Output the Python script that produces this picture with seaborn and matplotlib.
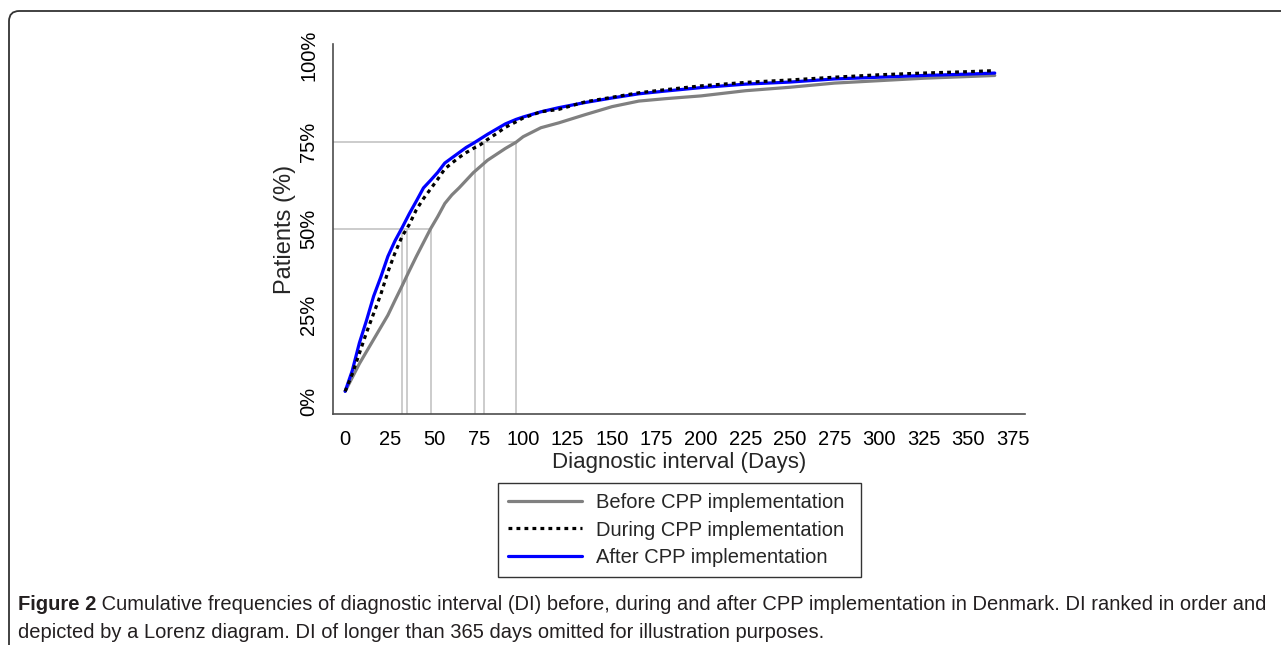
import numpy as np
import pandas as pd
import matplotlib
matplotlib.use("Agg")
import matplotlib.pyplot as plt
from matplotlib.patches import FancyBboxPatch
from matplotlib.lines import Line2D
import seaborn as sns

# ---------------- data ----------------
days = [0, 4, 8, 12, 16, 20, 24, 28, 32, 36, 40, 44, 48, 52, 56, 60, 64, 68, 72, 76, 80, 85,
        90, 96, 100, 110, 120, 135, 150, 165, 180, 200, 225, 250, 275, 300, 325, 350, 365]

before = [3, 7, 11, 14.5, 18, 21.5, 25, 29.3, 33.5, 37.8, 42, 46, 50, 53.5, 57.3, 59.8, 61.8, 64, 66.2,
          68, 69.8, 71.5, 73.2, 75, 76.6, 79.2, 80.6, 83, 85.3, 86.9, 87.6, 88.4, 89.9, 90.9, 92.1,
          92.8, 93.5, 94.0, 94.3]

during = [3, 8, 14, 20, 25.5, 31, 37.5, 43, 47.8, 51.2, 55.5, 58.7, 61.5, 64.3, 67.3, 69, 70.6, 72,
          73.2, 74.3, 75.8, 77.5, 79.3, 80.9, 82, 83.8, 84.5, 86.7, 88, 89.3, 90.2, 91.3, 92.3, 93,
          93.8, 94.5, 95, 95.4, 95.7]

after = [3, 9, 17, 23.5, 30.5, 36, 42, 46.5, 50.3, 54.3, 58, 61.8, 64, 66.3, 69, 70.5, 72, 73.5, 74.7,
         76, 77.3, 78.8, 80.3, 81.6, 82.3, 83.8, 85, 86.5, 87.8, 89, 89.8, 90.8, 91.8, 92.4, 93.3,
         93.8, 94.3, 94.7, 95.0]

series_names = ["Before CPP implementation", "During CPP implementation", "After CPP implementation"]
median_days = [48, 35, 32]   # 50% crossing, before/during/after
p75_days = [96, 78, 73]      # 75% crossing, before/during/after

x_ticks = list(range(0, 376, 25))
y_ticks = [0, 25, 50, 75, 100]
y_tick_labels = ["0%", "25%", "50%", "75%", "100%"]

caption_bold = "Figure 2"
caption_rest = (" Cumulative frequencies of diagnostic interval (DI) before, during and after CPP "
                "implementation in Denmark. DI ranked in order and")
caption_line2 = "depicted by a Lorenz diagram. DI of longer than 365 days omitted for illustration purposes."

# ---------------- styling ----------------
sns.set_style("white")
plt.rcParams["font.family"] = ["Liberation Sans", "DejaVu Sans"]
FS = 14.5

W, H = 1281, 645
fig = plt.figure(figsize=(W / 100, H / 100), dpi=100)

ax = fig.add_axes([332.7 / W, 1 - 414 / H, (1025 - 332.7) / W, (414 - 44) / H])

df = pd.DataFrame({
    "day": days * 3,
    "pct": before + during + after,
    "period": [series_names[0]] * len(days) + [series_names[1]] * len(days) + [series_names[2]] * len(days),
})

colors = ["#808080", "#000000", "#0000ff"]
styles = ["-", (0, (1.2, 1.3)), "-"]
zorders = [3, 5, 4]

XMIN, XMAX = -7.0, 382
YMIN, YMAX = -3.55, 103.4
ax.set_xlim(XMIN, XMAX)
ax.set_ylim(YMIN, YMAX)

# reference lines
ref_c = "#c4c4c4"
ref_lw = 1.2
ax.hlines(50, XMIN, median_days[0], color=ref_c, lw=ref_lw, zorder=1)
ax.hlines(75, XMIN, p75_days[0], color=ref_c, lw=ref_lw, zorder=1)
for d in median_days:
    ax.vlines(d, YMIN, 50, color=ref_c, lw=ref_lw, zorder=1)
for d in p75_days:
    ax.vlines(d, YMIN, 75, color=ref_c, lw=ref_lw, zorder=1)

for name, c, ls, z in zip(series_names, colors, styles, zorders):
    sub = df[df["period"] == name]
    sns.lineplot(data=sub, x="day", y="pct", ax=ax, color=c, estimator=None, sort=False,
                 legend=False, zorder=z)
    ln = ax.lines[-1]
    ln.set_linestyle(ls)
    ln.set_linewidth(2.3)
    ln.set_dash_capstyle("butt")
    ln.set_solid_capstyle("round")
    ln.set_solid_joinstyle("round")

spine_c = "#4d4d4d"
for s in ["top", "right"]:
    ax.spines[s].set_visible(False)
for s in ["left", "bottom"]:
    ax.spines[s].set_color(spine_c)
    ax.spines[s].set_linewidth(1.2)

ax.set_xticks(x_ticks)
ax.set_xticklabels([str(t) for t in x_ticks])
ax.set_yticks(y_ticks)
ax.set_yticklabels(y_tick_labels, rotation=90, va="center")
ax.tick_params(axis="both", direction="out", length=4.5, width=1.1, color=spine_c,
               labelsize=FS, labelcolor="#000000")
ax.tick_params(axis="y", pad=6)
ax.tick_params(axis="x", pad=7)
ax.set_xlabel("Diagnostic interval (Days)", fontsize=16, labelpad=2.5)
ax.set_ylabel("Patients (%)", fontsize=17, labelpad=2)
ax.grid(False)

# legend
handles = [Line2D([0], [0], color=c, lw=2.3, linestyle=ls, dash_capstyle="butt")
           for c, ls in zip(colors, styles)]
leg = fig.legend(handles, series_names, loc="upper left",
                 bbox_to_anchor=(498 / W, 1 - 575 / H, (861 - 498) / W, (575 - 483) / H),
                 mode="expand", borderaxespad=0,
                 fontsize=FS, frameon=True, fancybox=False, framealpha=1,
                 edgecolor="#333333", handlelength=3.65, handletextpad=0.7,
                 labelspacing=0.42, borderpad=0.5)
leg.get_frame().set_linewidth(1.0)

# caption
CFS = 14.5
cap_fam = ["Liberation Sans", "DejaVu Sans"]
bold_txt = fig.text(18 / W, 1 - 605 / H, caption_bold, fontsize=CFS, fontweight="bold",
                    color="#231f20", va="center", ha="left", family=cap_fam)
fig.canvas.draw()
r = fig.canvas.get_renderer()
bb = bold_txt.get_window_extent(renderer=r)
fig.text(bb.x1 / W, 1 - 605 / H, caption_rest, fontsize=CFS, color="#231f20",
         va="center", ha="left", family=cap_fam)
fig.text(18 / W, 1 - 632 / H, caption_line2, fontsize=CFS, color="#231f20",
         va="center", ha="left", family=cap_fam)

# outer rounded border (clipped at right and bottom)
border = FancyBboxPatch((9 / W, -20 / H), (W + 30 - 9) / W, (H + 20 - 11) / H,
                        boxstyle="round,pad=0,rounding_size=0.008",
                        transform=fig.transFigure, fill=False,
                        edgecolor="#333333", linewidth=1.3, clip_on=False,
                        mutation_aspect=W / H)
fig.patches.append(border)

fig.savefig("out.png", dpi=100)
